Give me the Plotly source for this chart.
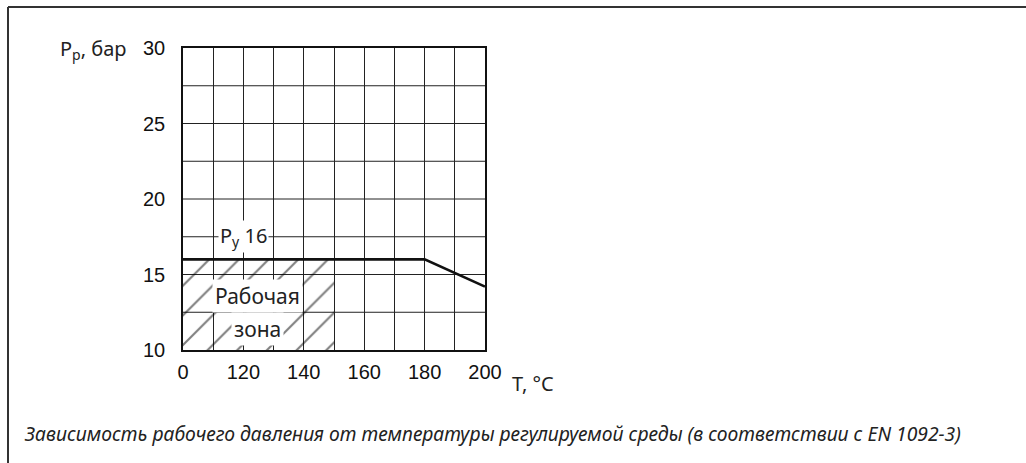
import plotly.graph_objects as go

# Pressure / temperature curve
temp = [100, 180, 200]
pressure = [16, 16, 14.2]

# Working zone (hatched)
zone_t = [100, 150]
zone_p = [10, 16]

# Axis ticks
x_ticks = [100, 120, 140, 160, 180, 200]
x_ticktext = ["0", "120", "140", "160", "180", "200"]
y_ticks = [10, 15, 20, 25, 30]

W, H = 1026, 463
L, R, T, B = 183, 485, 48, 350  # plot area in pixels


def px(xp):
    return (xp - L) / (R - L)


def py(yp):
    return (B - yp) / (B - T)


fig = go.Figure()

fig.add_trace(go.Scatter(
    x=[zone_t[0], zone_t[1], zone_t[1], zone_t[0], zone_t[0]],
    y=[zone_p[0], zone_p[0], zone_p[1], zone_p[1], zone_p[0]],
    mode="lines", line=dict(width=0), fill="toself",
    fillcolor="rgba(0,0,0,0)",
    fillpattern=dict(shape="/", size=21, solidity=0.1, fgcolor="#000",
                     bgcolor="rgba(0,0,0,0)"),
    hoverinfo="skip", showlegend=False,
))

fig.add_trace(go.Scatter(
    x=temp, y=pressure, mode="lines",
    line=dict(color="#111", width=2.6),
    showlegend=False,
))

tick_font = dict(family="Liberation Sans, Arial", size=20, color="#111")
label_font = dict(family="Noto Sans", size=20, color="#222")

fig.update_xaxes(
    range=[100, 200], tickvals=x_ticks, ticktext=x_ticktext,
    showgrid=True, gridcolor="#222", gridwidth=1,
    minor=dict(tick0=100, dtick=10, showgrid=True, gridcolor="#222",
               gridwidth=1, ticks=""),
    showline=True, linecolor="#111", linewidth=1.5, mirror=True,
    ticks="", ticklabelstandoff=3, tickfont=tick_font, zeroline=False,
)
fig.update_yaxes(
    range=[10, 30], tickvals=y_ticks,
    showgrid=False, showline=True, linecolor="#111", linewidth=1.5,
    mirror=True, ticks="", ticklabelstandoff=12, tickfont=tick_font,
    zeroline=False,
)

shapes = []
# horizontal grid every 2.5 bar
for k in range(1, 8):
    shapes.append(dict(type="line", xref="paper", yref="y", x0=0, x1=1,
                       y0=10 + 2.5 * k, y1=10 + 2.5 * k,
                       line=dict(color="#222", width=1), layer="below"))
# outer frame
shapes.append(dict(type="line", xref="paper", yref="paper",
                   x0=px(8), x1=px(W + 5), y0=py(7), y1=py(7),
                   line=dict(color="#333", width=2)))
shapes.append(dict(type="line", xref="paper", yref="paper",
                   x0=px(8), x1=px(8), y0=py(7), y1=py(H + 5),
                   line=dict(color="#333", width=2)))

annotations = [
    dict(x=120, y=17.5, xref="x", yref="y", text="P<sub>y</sub> 16",
         showarrow=False, font=label_font, bgcolor="white", borderpad=1),
    dict(x=124.6, y=13.55, xref="x", yref="y", text="Рабочая",
         showarrow=False, font=dict(family="Noto Sans", size=21, color="#222"),
         bgcolor="white", borderpad=2),
    dict(x=124.6, y=11.4, xref="x", yref="y", text="зона",
         showarrow=False, font=dict(family="Noto Sans", size=21, color="#222"),
         bgcolor="white", borderpad=2),
    dict(x=px(129), y=py(49), xref="paper", yref="paper",
         text="P<sub>p</sub>, бар", xanchor="right", yanchor="middle",
         showarrow=False, font=label_font),
    dict(x=px(510), y=py(383), xref="paper", yref="paper",
         text="T, °C", xanchor="left", yanchor="middle",
         showarrow=False, font=label_font),
    dict(x=px(22), y=py(433), xref="paper", yref="paper",
         text="<i>Зависимость рабочего давления от температуры регулируемой среды (в соответствии с EN 1092-3)</i>",
         xanchor="left", yanchor="middle", showarrow=False,
         font=dict(family="Noto Sans", size=19.3, color="#222")),
]

fig.update_layout(
    width=W, height=H,
    margin=dict(l=L, r=W - R, t=T, b=H - B, pad=0),
    paper_bgcolor="white", plot_bgcolor="white",
    shapes=shapes, annotations=annotations,
    showlegend=False,
)

fig.write_html("out.html")
